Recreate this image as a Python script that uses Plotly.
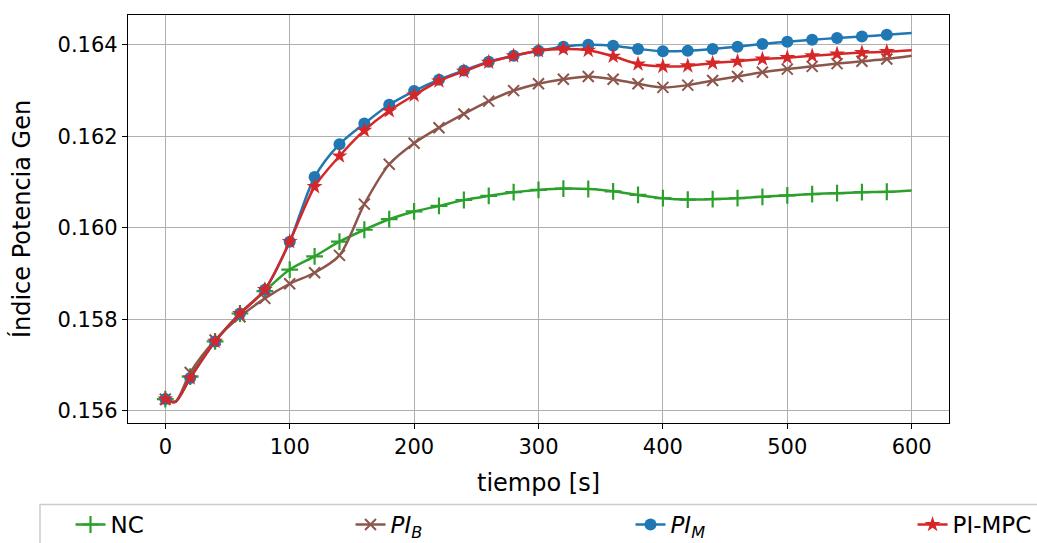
import plotly.graph_objects as go

# Time instants (s); the 8 s sample captures the small initial dip
t = [0, 8, 20, 40, 60, 80, 100, 120, 140, 160, 180, 200, 220, 240, 260, 280,
     300, 320, 340, 360, 380, 400, 420, 440, 460, 480, 500, 520, 540, 560, 580, 600]

nc = [0.15626, 0.15620, 0.15675, 0.15752, 0.15813, 0.15862, 0.15909, 0.15938,
      0.15970, 0.15996, 0.16019, 0.16036, 0.16048, 0.16061, 0.16070, 0.16078,
      0.16083, 0.16086, 0.16085, 0.16080, 0.16072, 0.16065, 0.16062, 0.16063,
      0.16065, 0.16068, 0.16071, 0.16074, 0.16076, 0.16078, 0.16079, 0.16082]

pi_b = [0.15626, 0.15620, 0.15684, 0.15755, 0.15806, 0.15846, 0.15878, 0.15902,
        0.15940, 0.16052, 0.16139, 0.16185, 0.16219, 0.16249, 0.16277, 0.16300,
        0.16315, 0.16325, 0.16331, 0.16325, 0.16315, 0.16307, 0.16312, 0.16322,
        0.16331, 0.16340, 0.16347, 0.16353, 0.16359, 0.16364, 0.16369, 0.16376]

pi_m = [0.15626, 0.15620, 0.15672, 0.15752, 0.15813, 0.15865, 0.15970, 0.16111,
        0.16183, 0.16228, 0.16269, 0.16299, 0.16324, 0.16344, 0.16363, 0.16376,
        0.16387, 0.16396, 0.16400, 0.16398, 0.16391, 0.16386, 0.16387, 0.16391,
        0.16396, 0.16402, 0.16407, 0.16411, 0.16415, 0.16418, 0.16422, 0.16426]

pi_mpc = [0.15626, 0.15620, 0.15672, 0.15752, 0.15813, 0.15865, 0.15970, 0.16090,
          0.16157, 0.16213, 0.16256, 0.16290, 0.16321, 0.16342, 0.16362, 0.16376,
          0.16387, 0.16391, 0.16388, 0.16375, 0.16358, 0.16353, 0.16354, 0.16360,
          0.16364, 0.16369, 0.16372, 0.16376, 0.16380, 0.16383, 0.16385, 0.16388]

x_ticks = [0, 100, 200, 300, 400, 500, 600]
y_ticks = [0.156, 0.158, 0.160, 0.162, 0.164]

series = [
    ("NC", nc, "#2ca02c", "cross-thin", 12, 2.2),
    ("<i>PI<sub>B</sub></i>", pi_b, "#8c564b", "x-thin", 11, 2.0),
    ("<i>PI<sub>M</sub></i>", pi_m, "#1f77b4", "circle", 12, 0),
    ("PI-MPC", pi_mpc, "#d62728", "star", 12, 0),
]
legend_ids = ["legend", "legend2", "legend3", "legend4"]
legend_x = [0.068, 0.338, 0.608, 0.880]

FONT = "DejaVu Sans"
fig = go.Figure()

for (name, vals, color, symbol, size, mlw), lid in zip(series, legend_ids):
    # smooth line through all samples
    fig.add_trace(go.Scatter(
        x=t, y=vals, mode="lines", showlegend=False, hoverinfo="skip",
        line=dict(color=color, width=2.5, shape="spline", smoothing=0.8)))
    # markers every 20 s up to 580 s
    mx = [ti for ti in t if ti % 20 == 0 and ti <= 580]
    my = [v for ti, v in zip(t, vals) if ti % 20 == 0 and ti <= 580]
    marker = dict(color=color, symbol=symbol, size=size)
    if mlw:
        marker["line"] = dict(color=color, width=mlw)
    fig.add_trace(go.Scatter(x=mx, y=my, mode="markers", showlegend=False,
                             marker=marker))
    # legend entry
    fig.add_trace(go.Scatter(x=[None], y=[None], mode="lines+markers", name=name,
                             legend=lid, line=dict(color=color, width=2.5),
                             marker=marker))

axis_common = dict(
    showline=True, linecolor="black", linewidth=1.2, mirror=True,
    ticks="outside", ticklen=5, tickwidth=1.2, tickcolor="black",
    showgrid=True, gridcolor="#b0b0b0", gridwidth=1.2, zeroline=False,
    tickfont=dict(family=FONT, size=21, color="black"),
)

legend_layout = {}
for lid, lx in zip(legend_ids, legend_x):
    legend_layout[lid] = dict(
        xref="container", yref="container", x=lx, xanchor="left",
        y=0.034, yanchor="middle", orientation="h", bgcolor="rgba(0,0,0,0)",
        borderwidth=0, font=dict(family=FONT, size=23, color="black"))

fig.update_layout(
    width=1037, height=543,
    margin=dict(l=128, r=88, t=15, b=118),
    paper_bgcolor="white", plot_bgcolor="white",
    font=dict(family=FONT, size=21, color="black"),
    xaxis=dict(range=[-30, 630], tickvals=x_ticks,
               title=dict(text="tiempo [s]", font=dict(family=FONT, size=24), standoff=15),
               **axis_common),
    yaxis=dict(range=[0.155739, 0.164652], tickvals=y_ticks, tickformat=".3f",
               title=dict(text="Índice Potencia Gen", font=dict(family=FONT, size=24), standoff=20),
               **axis_common),
    showlegend=True,
    # frame around the legend row
    shapes=[dict(type="rect", xref="paper", yref="paper",
                 x0=-0.1072, x1=1.12, y0=-0.20, y1=-0.33,
                 line=dict(color="#cccccc", width=1.5), fillcolor="white",
                 layer="below")],
    **legend_layout,
)

fig.write_html("out.html")
